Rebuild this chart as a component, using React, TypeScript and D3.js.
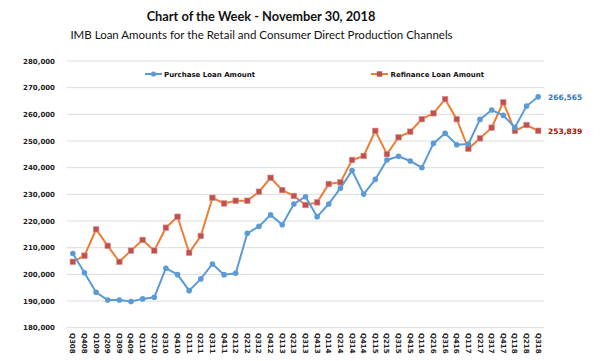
import React from "react";
import * as d3 from "d3";

// quarters on the x axis
const quarters = [
  "Q308", "Q408", "Q109", "Q209", "Q309", "Q409", "Q110", "Q210", "Q310", "Q410",
  "Q111", "Q211", "Q311", "Q411", "Q112", "Q212", "Q312", "Q412", "Q113", "Q213",
  "Q313", "Q413", "Q114", "Q214", "Q314", "Q414", "Q115", "Q215", "Q315", "Q415",
  "Q116", "Q216", "Q316", "Q416", "Q117", "Q217", "Q317", "Q417", "Q118", "Q218",
  "Q318",
];

const purchase = [
  207800, 200600, 193300, 190400, 190400, 189800, 190800, 191400, 202300, 199900,
  193900, 198300, 203900, 199900, 200400, 215400, 218000, 222300, 218600, 226400,
  229100, 221600, 226400, 232300, 238900, 230100, 235600, 242900, 244300, 242500,
  240000, 249100, 252900, 248600, 248900, 258100, 261600, 259600, 255100, 263100,
  266565,
];

const refinance = [
  204700, 207000, 216900, 210700, 204700, 208900, 212900, 208900, 217500, 221600,
  208100, 214400, 228700, 226600, 227600, 227600, 231000, 236200, 231600, 229400,
  226000, 227000, 233900, 234500, 242900, 244400, 253800, 245100, 251400, 253500,
  258200, 260400, 265700, 258200, 247100, 251000, 255000, 264500, 253800, 256000,
  253839,
];

const yTicks = [180000, 190000, 200000, 210000, 220000, 230000, 240000, 250000, 260000, 270000, 280000];

const BLUE = "#5B9BD5";
const ORANGE = "#ED7D31";
const RED = "#C0504D";
const labelFont = "'DejaVu Sans', sans-serif";

export default function App() {
  const left = 67;
  const right = 544;
  const top = 61;
  const bottom = 327.7;

  const x = d3.scaleBand<string>().domain(quarters).range([left, right]);
  const y = d3.scaleLinear().domain([180000, 280000]).range([bottom, top]);
  const cx = (q: string) => (x(q) ?? 0) + x.bandwidth() / 2;

  const line = d3
    .line<number>()
    .x((_, i) => cx(quarters[i]))
    .y((d) => y(d));

  const fmt = d3.format(",");
  const last = quarters.length - 1;

  return (
    <svg
      width={600}
      height={361}
      style={{ position: "absolute", left: 0, top: 0, background: "#fff" }}
    >
      <text x={261} y={21} textAnchor="middle" fontFamily="Lato, sans-serif" fontWeight="bold" fontSize={12.8} fill="#111">
        Chart of the Week - November 30, 2018
      </text>
      <text x={261.5} y={39} textAnchor="middle" fontFamily="Lato, sans-serif" fontSize={11.5} fill="#111">
        IMB Loan Amounts for the Retail and Consumer Direct Production Channels
      </text>

      {/* gridlines + y labels */}
      {yTicks.map((t) => (
        <g key={t}>
          <line x1={left} x2={right} y1={y(t)} y2={y(t)} stroke="#DCDCDC" strokeWidth={1} />
          <text x={55} y={y(t) + 2.5} textAnchor="end" fontFamily={labelFont} fontWeight="bold" fontSize={7} fill="#222">
            {fmt(t)}
          </text>
        </g>
      ))}

      {/* x labels */}
      {quarters.map((q) => (
        <text
          key={q}
          transform={`translate(${cx(q) - 2.5},333) rotate(90)`}
          fontFamily={labelFont}
          fontWeight="bold"
          fontSize={7}
          fill="#222"
        >
          {q}
        </text>
      ))}

      {/* legend */}
      <line x1={145} x2={162} y1={74} y2={74} stroke={BLUE} strokeWidth={2} />
      <circle cx={153.5} cy={74} r={2.6} fill={BLUE} />
      <text x={164} y={76.5} fontFamily={labelFont} fontWeight="bold" fontSize={7} fill="#111">
        Purchase Loan Amount
      </text>
      <line x1={371} x2={388} y1={74} y2={74} stroke={ORANGE} strokeWidth={2} />
      <rect x={376.8} y={71.3} width={5.4} height={5.4} fill={RED} />
      <text x={390.5} y={76.5} fontFamily={labelFont} fontWeight="bold" fontSize={7} fill="#111">
        Refinance Loan Amount
      </text>

      {/* refinance series */}
      <path d={line(refinance) ?? ""} fill="none" stroke={ORANGE} strokeWidth={2} />
      {refinance.map((v, i) => (
        <rect
          key={`r${i}`}
          x={cx(quarters[i]) - 2.8}
          y={y(v) - 2.8}
          width={5.6}
          height={5.6}
          fill={RED}
          stroke="#D99694"
          strokeWidth={0.6}
        />
      ))}

      {/* purchase series */}
      <path d={line(purchase) ?? ""} fill="none" stroke={BLUE} strokeWidth={2} />
      {purchase.map((v, i) => (
        <circle key={`p${i}`} cx={cx(quarters[i])} cy={y(v)} r={2.8} fill={BLUE} />
      ))}

      {/* end labels */}
      <text x={548} y={y(purchase[last]) + 2.8} fontFamily={labelFont} fontWeight="bold" fontSize={7.5} fill="#2E75B6">
        {fmt(purchase[last])}
      </text>
      <text x={548} y={y(refinance[last]) + 2.8} fontFamily={labelFont} fontWeight="bold" fontSize={7.5} fill="#C00000">
        {fmt(refinance[last])}
      </text>
    </svg>
  );
}
